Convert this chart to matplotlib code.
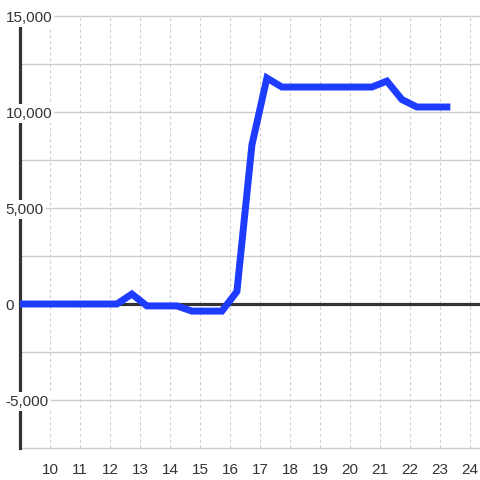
import matplotlib
matplotlib.use("Agg")
import matplotlib.pyplot as plt
from matplotlib.transforms import blended_transform_factory

# -----------------------------
# DATA
# -----------------------------
hours = [8.73, 9.23, 9.73, 10.23, 10.73, 11.23, 11.73, 12.23, 12.73, 13.23,
         13.73, 14.23, 14.73, 15.23, 15.73, 16.23, 16.73, 17.23, 17.73, 18.23,
         18.73, 19.23, 19.73, 20.23, 20.73, 21.23, 21.73, 22.23, 22.73, 23.23]
values = [0, 0, 0, 0, 0, 0, 0, 0, 520, -100,
          -100, -100, -370, -370, -370, 650, 8280, 11770, 11300, 11300,
          11300, 11300, 11300, 11300, 11300, 11610, 10650, 10260, 10260, 10260]

x_ticks = list(range(10, 25))
y_grid = [-7500, -5000, -2500, 0, 2500, 5000, 7500, 10000, 12500, 15000]
y_labels = {15000: "15,000", 10000: "10,000", 5000: "5,000", 0: "0", -5000: "-5,000"}

# -----------------------------
# STYLE
# -----------------------------
W = 480
TXT = "#333333"
GRID = "#cccccc"
BLUE = "#1e3cff"
plt.rcParams["font.family"] = ["Liberation Sans", "DejaVu Sans"]

fig = plt.figure(figsize=(4.8, 4.8), dpi=100)
fig.patch.set_facecolor("white")

# axes: x 9 -> 24.333 over px 20..480 ; y -7500 -> 15000 over px 448..16, padded 4px
pad_units = 4 * 2500 / 48
ax = fig.add_axes([20 / W, 28 / W, 460 / W, 440 / W])
ax.set_xlim(9, 9 + 460 / 30)
ax.set_ylim(-7500 - pad_units, 15000 + pad_units)
ax.set_facecolor("white")

for s in ["top", "right", "bottom"]:
    ax.spines[s].set_visible(False)
ax.spines["left"].set_color(TXT)
ax.spines["left"].set_linewidth(2.3)
ax.spines["left"].set_bounds(-7500, 15000)
ax.spines["left"].set_zorder(3)

# grid
ax.hlines(y_grid, 9, 9 + 460 / 30, colors=GRID, linewidth=1, zorder=1)
ax.vlines(x_ticks, -7500, 15000, colors="#cdcdcd", linewidth=0.8,
          linestyles=(0, (2.6, 2.6)), zorder=1)

# zero line
ax.axhline(0, color=TXT, linewidth=2.3, zorder=2)

# series
ax.plot(hours, values, color=BLUE, linewidth=5, solid_capstyle="projecting",
        solid_joinstyle="miter", zorder=4)

# x ticks
ax.set_xticks(x_ticks)
ax.set_xticklabels([str(t) for t in x_ticks])
ax.set_yticks([])
ax.tick_params(axis="x", length=0, pad=8, labelsize=11, labelcolor=TXT)

# y labels drawn inside with a background box
tr = blended_transform_factory(fig.transFigure, ax.transData)
for v, lab in y_labels.items():
    ax.text(5.5 / W, v, lab, transform=tr, ha="left", va="center_baseline",
            fontsize=11, color=TXT, zorder=5,
            bbox=dict(boxstyle="square,pad=0.15", facecolor="white", edgecolor="none"))

fig.savefig("out.png", dpi=100, facecolor=fig.get_facecolor())
